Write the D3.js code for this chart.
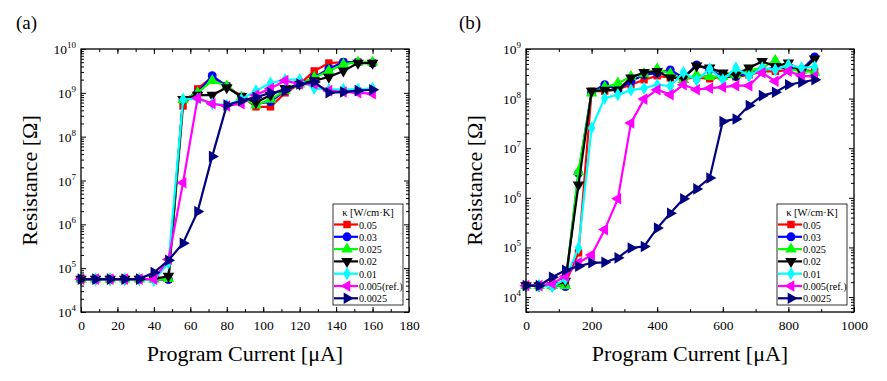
<!DOCTYPE html>
<html><head><meta charset="utf-8">
<script src="https://cdn.jsdelivr.net/npm/d3@7"></script>
<style>body{margin:0;background:#fff}svg{display:block}text{font-family:"Liberation Serif","Times New Roman",serif;fill:#000}</style>
</head><body>
<svg id="c" width="887" height="381"></svg>
<script>
// ---------- data ----------
const seriesNames = ["0.05","0.03","0.025","0.02","0.01","0.005(ref.)","0.0025"];
const seriesColors = ["#ff0000","#0000ff","#00ff00","#000000","#00ffff","#ff00ff","#000080"];
const seriesSymbols = ["square","circle","triangle","tridown","diamond","trileft","triright"];

// panel (a): current 0..160 step 8 (µA), values = log10(R)
const xA = [0,8,16,24,32,40,48,56,64,72,80,88,96,104,112,120,128,136,144,152,160];
const logA_005  = [4.75,4.75,4.75,4.75,4.75,4.75,4.75,8.70,9.09,9.36,9.16,8.92,8.68,8.68,9.00,9.20,9.50,9.68,9.70,9.70,9.68];
const logA_003  = [4.75,4.75,4.75,4.75,4.75,4.75,4.74,8.84,9.00,9.39,9.15,8.90,8.75,8.80,9.05,9.20,9.35,9.55,9.70,9.70,9.68];
const logA_0025 = [4.75,4.75,4.75,4.75,4.75,4.75,4.76,8.84,9.00,9.28,9.15,8.90,8.72,8.85,9.05,9.20,9.35,9.50,9.65,9.70,9.70];
const logA_002  = [4.75,4.75,4.75,4.75,4.75,4.75,4.82,8.85,8.95,8.95,9.12,8.92,8.78,8.95,9.10,9.20,9.28,9.36,9.50,9.68,9.68];
const logA_001  = [4.75,4.75,4.75,4.75,4.75,4.72,5.12,8.85,8.86,8.75,8.72,8.85,9.05,9.22,9.30,9.30,9.10,9.08,9.08,9.08,9.10];
const logA_0005 = [4.75,4.75,4.75,4.75,4.75,4.75,5.20,6.95,8.88,8.75,8.70,8.75,8.95,9.10,9.28,9.20,9.20,9.05,9.02,9.00,8.98];
const logA_00025= [4.75,4.75,4.75,4.75,4.75,4.90,5.18,5.57,6.29,7.55,8.72,8.82,8.90,9.00,9.05,9.20,9.25,9.00,9.02,9.05,9.07];

// panel (b): current 0..880 step 40 (µA), values = log10(R)
const xB = [0,40,80,120,160,200,240,280,320,360,400,440,480,520,560,600,640,680,720,760,800,840,880];
const logB_005  = [4.23,4.23,4.23,4.28,4.89,8.15,8.15,8.19,8.28,8.38,8.46,8.42,8.40,8.42,8.40,8.44,8.44,8.48,8.55,8.55,8.58,8.58,8.55];
const logB_003  = [4.23,4.23,4.23,4.21,6.50,8.13,8.28,8.18,8.35,8.48,8.52,8.58,8.42,8.68,8.58,8.44,8.45,8.52,8.58,8.62,8.62,8.58,8.84];
const logB_0025 = [4.23,4.23,4.23,4.23,6.53,8.11,8.23,8.31,8.44,8.50,8.60,8.50,8.38,8.48,8.44,8.45,8.48,8.57,8.62,8.77,8.58,8.57,8.53];
const logB_002  = [4.23,4.23,4.23,4.32,6.26,8.15,8.17,8.17,8.42,8.53,8.55,8.42,8.42,8.66,8.62,8.52,8.48,8.62,8.75,8.65,8.72,8.55,8.80];
const logB_001  = [4.23,4.23,4.21,4.36,4.99,7.41,8.01,8.08,8.17,8.21,8.28,8.25,8.53,8.37,8.60,8.38,8.62,8.45,8.62,8.58,8.68,8.62,8.64];
const logB_0005 = [4.23,4.23,4.27,4.42,4.69,4.85,5.36,5.98,7.51,7.99,8.18,8.08,8.28,8.18,8.21,8.23,8.26,8.26,8.52,8.35,8.55,8.46,8.45];
const logB_00025= [4.23,4.23,4.40,4.54,4.62,4.69,4.70,4.79,4.99,5.02,5.39,5.69,5.98,6.18,6.40,7.54,7.59,7.86,8.06,8.13,8.28,8.33,8.38];

const xTicksA = [0,20,40,60,80,100,120,140,160,180];
const xTicksB = [0,200,400,600,800,1000];
const yExpA = [4,5,6,7,8,9,10];
const yExpB = [4,5,6,7,8,9];
const legendTitle = "\u03BA [W/cm\u00B7K]";
const xTitle = "Program Current [\u03BCA]";
const yTitle = "Resistance [\u03A9]";

// ---------- drawing ----------
const svg = d3.select("#c");
const symMap = {
  square: d3.symbolSquare, circle: d3.symbolCircle, triangle: d3.symbolTriangle,
  tridown: d3.symbolTriangle, diamond: d3.symbolDiamond, trileft: d3.symbolTriangle, triright: d3.symbolTriangle
};
const rotMap = {square:0,circle:0,triangle:0,tridown:180,diamond:0,trileft:-90,triright:90};
const sizeMap = {square:55,circle:62,triangle:58,tridown:58,diamond:50,trileft:58,triright:58};

function drawPanel(cfg){
  const g = svg.append("g");
  const x = d3.scaleLinear().domain(cfg.xDom).range([cfg.left, cfg.right]);
  const y = d3.scaleLog().domain(cfg.yDom).range([cfg.bottom, cfg.top]);

  // series
  const line = d3.line().x(d=>x(d[0])).y(d=>y(d[1]));
  cfg.series.forEach((vals,i)=>{
    const pts = cfg.xs.map((xv,j)=>[xv, Math.pow(10, vals[j])]);
    g.append("path").attr("d", line(pts)).attr("fill","none")
      .attr("stroke", seriesColors[i]).attr("stroke-width",2.2);
    const s = seriesSymbols[i];
    g.selectAll(null).data(pts).enter().append("path")
      .attr("d", d3.symbol().type(symMap[s]).size(sizeMap[s])())
      .attr("transform", d=>`translate(${x(d[0])},${y(d[1])}) rotate(${rotMap[s]})`)
      .attr("fill", seriesColors[i]);
  });

  // frame
  g.append("rect").attr("x",cfg.left).attr("y",cfg.top)
    .attr("width",cfg.right-cfg.left).attr("height",cfg.bottom-cfg.top)
    .attr("fill","none").attr("stroke","#000").attr("stroke-width",1.3);

  // x axis (bottom + top mirror), inward ticks
  const xMinor = d3.range(cfg.xDom[0], cfg.xDom[1]+1e-9, cfg.xMinorStep);
  const axB = d3.axisBottom(x).tickValues(cfg.xTicks).tickSize(-5).tickPadding(8).tickFormat(d3.format("d"));
  const gxb = g.append("g").attr("transform",`translate(0,${cfg.bottom})`).call(axB);
  gxb.select(".domain").remove();
  gxb.selectAll("text").attr("font-size",13.5).attr("font-family","Liberation Serif");
  const gxbm = g.append("g").attr("transform",`translate(0,${cfg.bottom})`)
    .call(d3.axisBottom(x).tickValues(xMinor).tickSize(-3).tickFormat(""));
  gxbm.select(".domain").remove();
  const gxt = g.append("g").attr("transform",`translate(0,${cfg.top})`)
    .call(d3.axisTop(x).tickValues(cfg.xTicks).tickSize(-5).tickFormat(""));
  gxt.select(".domain").remove();
  const gxtm = g.append("g").attr("transform",`translate(0,${cfg.top})`)
    .call(d3.axisTop(x).tickValues(xMinor).tickSize(-3).tickFormat(""));
  gxtm.select(".domain").remove();

  // y axis (log), majors + minors, both sides
  const majors = cfg.yExp.map(e=>Math.pow(10,e));
  const minors = [];
  const lo = Math.floor(Math.log10(cfg.yDom[0])), hi = Math.ceil(Math.log10(cfg.yDom[1]));
  for(let e=lo;e<hi;e++) for(let m=2;m<=9;m++){ const v=m*Math.pow(10,e); if(v>=cfg.yDom[0]&&v<=cfg.yDom[1]) minors.push(v); }
  [[d3.axisLeft, cfg.left],[d3.axisRight, cfg.right]].forEach(([fn,pos])=>{
    const a = g.append("g").attr("transform",`translate(${pos},0)`)
      .call(fn(y).tickValues(majors).tickSize(-5).tickFormat(""));
    a.select(".domain").remove();
    const b = g.append("g").attr("transform",`translate(${pos},0)`)
      .call(fn(y).tickValues(minors).tickSize(-3).tickFormat(""));
    b.select(".domain").remove();
  });
  g.selectAll(".tick line").attr("stroke","#000").attr("stroke-width",1);

  // y tick labels 10^n
  cfg.yExp.forEach(e=>{
    const t = g.append("text").attr("x", cfg.left-5).attr("y", y(Math.pow(10,e))+5)
      .attr("text-anchor","end").attr("font-size",13.5);
    t.append("tspan").text("10");
    t.append("tspan").attr("dy",-6).attr("font-size",9).text(e);
  });

  // axis titles
  g.append("text").attr("x",(cfg.left+cfg.right)/2).attr("y",cfg.bottom+49)
    .attr("text-anchor","middle").attr("font-size",22).text(xTitle);
  g.append("text").attr("transform",`translate(${cfg.left-44},${(cfg.top+cfg.bottom)/2}) rotate(-90)`)
    .attr("text-anchor","middle").attr("font-size",22).text(yTitle);

  // panel label
  g.append("text").attr("x",cfg.labelX).attr("y",29).attr("font-size",19).text(cfg.label);

  // legend
  const lg = g.append("g");
  lg.append("rect").attr("x",cfg.legX).attr("y",204).attr("width",70).attr("height",101)
    .attr("fill","#fff").attr("stroke","#000").attr("stroke-width",0.8);
  lg.append("text").attr("x",cfg.legX+35).attr("y",215.5).attr("text-anchor","middle")
    .attr("font-size",10.5).text(legendTitle);
  seriesNames.forEach((n,i)=>{
    const yy = 224.5 + i*12.3;
    lg.append("line").attr("x1",cfg.legX+1).attr("x2",cfg.legX+25).attr("y1",yy).attr("y2",yy)
      .attr("stroke",seriesColors[i]).attr("stroke-width",2.2);
    const s = seriesSymbols[i];
    lg.append("path").attr("d", d3.symbol().type(symMap[s]).size(sizeMap[s])())
      .attr("transform",`translate(${cfg.legX+14},${yy}) rotate(${rotMap[s]})`).attr("fill",seriesColors[i]);
    lg.append("text").attr("x",cfg.legX+26).attr("y",yy+4).attr("font-size",10.2).text(n);
  });
}

drawPanel({
  label:"(a)", labelX:16, left:81, right:409, top:49, bottom:312,
  xDom:[0,180], yDom:[1e4,1e10], xTicks:xTicksA, xMinorStep:10, yExp:yExpA, xs:xA,
  series:[logA_005,logA_003,logA_0025,logA_002,logA_001,logA_0005,logA_00025],
  legX:333
});
drawPanel({
  label:"(b)", labelX:459, left:526, right:854, top:49, bottom:312,
  xDom:[0,1000], yDom:[5000,1e9], xTicks:xTicksB, xMinorStep:100, yExp:yExpB, xs:xB,
  series:[logB_005,logB_003,logB_0025,logB_002,logB_001,logB_0005,logB_00025],
  legX:777
});
</script>
</body></html>
